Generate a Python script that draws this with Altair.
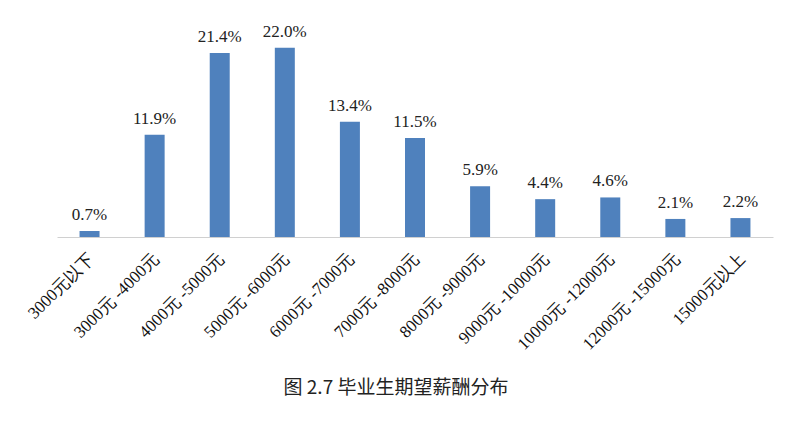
import altair as alt
import pandas as pd

categories = ["3000元以下", "3000元 -4000元", "4000元 -5000元", "5000元 -6000元",
              "6000元 -7000元", "7000元 -8000元", "8000元 -9000元", "9000元 -10000元",
              "10000元 -12000元", "12000元 -15000元", "15000元以上"]
values = [0.7, 11.9, 21.4, 22.0, 13.4, 11.5, 5.9, 4.4, 4.6, 2.1, 2.2]
labels = ["0.7%", "11.9%", "21.4%", "22.0%", "13.4%", "11.5%", "5.9%", "4.4%", "4.6%", "2.1%", "2.2%"]
title_text = "图 2.7  毕业生期望薪酬分布"

df = pd.DataFrame({"cat": categories, "val": values, "lab": labels})

W, H = 716, 215
serif = "'Liberation Serif', 'Times New Roman', 'DejaVu Serif', serif"

x = alt.X("cat:N", sort=categories, title=None,
          scale=alt.Scale(paddingInner=0, paddingOuter=0),
          axis=alt.Axis(labelAngle=-45, labelFont=serif, labelFontSize=17,
                        labelColor="#111", domainColor="#d0d0d0", ticks=False,
                        labelPadding=13, labelOffset=-4, labelLimit=300))
y = alt.Y("val:Q", title=None, scale=alt.Scale(domain=[0, 25], nice=False), axis=None)

bars = alt.Chart(df).mark_bar(size=20, color="#4f81bd").encode(x=x, y=y)
text = alt.Chart(df).mark_text(dy=-11, baseline="alphabetic", font=serif,
                               fontSize=17, color="#222").encode(
    x=alt.X("cat:N", sort=categories), y="val:Q", text="lab:N")

title = alt.Chart(pd.DataFrame({"t": [title_text]})).mark_text(
    font="Noto Sans CJK SC", fontSize=19, color="#222", baseline="middle", align="center"
).encode(x=alt.value(339), y=alt.value(366), text="t:N")

chart = alt.layer(bars, text, title).properties(
    width=W, height=H,
    background="white",
    autosize=alt.AutoSizeParams(type="none"),
    padding={"left": 57, "top": 22, "right": 34, "bottom": 187},
).configure_view(stroke=None, strokeWidth=0)

chart.save("out.html", embed_options={"renderer": "svg", "actions": False})
